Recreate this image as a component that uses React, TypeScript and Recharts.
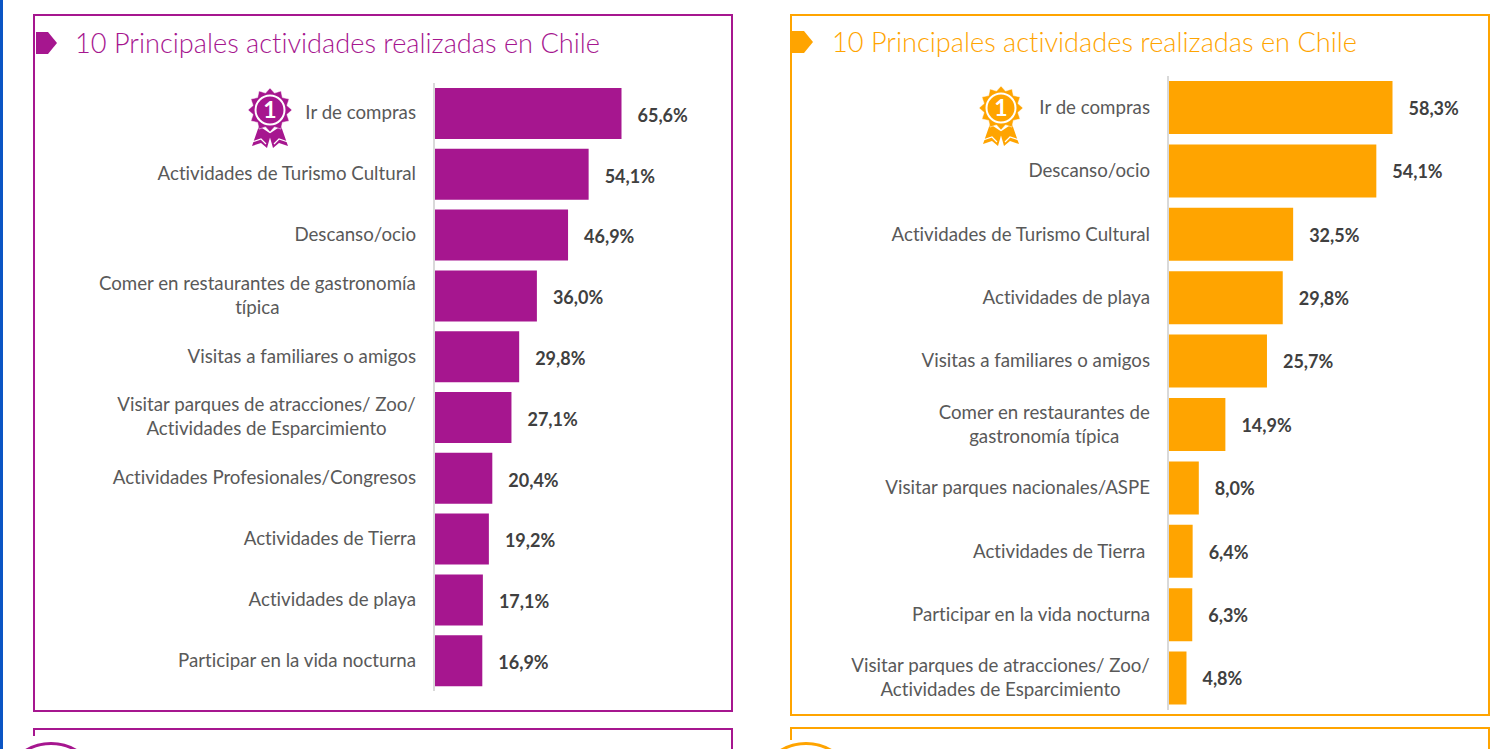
import { Bar, BarChart, LabelList, XAxis, YAxis } from 'recharts';

const FONT = 'Lato, "Open Sans", sans-serif';
const TICK_SIZE = 18.7;
const PURPLE = '#a6168f';
const ORANGE = '#ffa400';

const leftCategories = [
  'Ir de compras',
  'Actividades de Turismo Cultural',
  'Descanso/ocio',
  'Comer en restaurantes de gastronomía\ntípica',
  'Visitas a familiares o amigos',
  'Visitar parques de atracciones/ Zoo/\nActividades de Esparcimiento',
  'Actividades Profesionales/Congresos',
  'Actividades de Tierra',
  'Actividades de playa',
  'Participar en la vida nocturna',
];
const leftValues = [65.6, 54.1, 46.9, 36.0, 29.8, 27.1, 20.4, 19.2, 17.1, 16.9];

const rightCategories = [
  'Ir de compras',
  'Descanso/ocio',
  'Actividades de Turismo Cultural',
  'Actividades de playa',
  'Visitas a familiares o amigos',
  'Comer en restaurantes de\ngastronomía típica',
  'Visitar parques nacionales/ASPE',
  'Actividades de Tierra ',
  'Participar en la vida nocturna',
  'Visitar parques de atracciones/ Zoo/\nActividades de Esparcimiento',
];
const rightValues = [58.3, 54.1, 32.5, 29.8, 25.7, 14.9, 8.0, 6.4, 6.3, 4.8];

const percent = (v: number) => v.toFixed(1).replace('.', ',') + '%';

// wrapped labels are centred on each other, so the block needs its own width
function textWidth(text: string) {
  const ctx = document.createElement('canvas').getContext('2d');
  if (!ctx) return 0;
  ctx.font = `${TICK_SIZE}px ${FONT}`;
  return ctx.measureText(text).width;
}

function Tick({ x, y, payload }: any) {
  const lines = String(payload.value).split('\n');
  const multi = lines.length > 1;
  const middle = multi ? x - Math.max(...lines.map(textWidth)) / 2 : x;
  return (
    <text
      x={x}
      y={y}
      textAnchor={multi ? 'middle' : 'end'}
      fontFamily={FONT}
      fontSize={TICK_SIZE}
      fill="#595959"
      style={{ whiteSpace: 'pre', fontVariantLigatures: 'none' }}
    >
      {lines.map((line, i) => (
        <tspan key={i} x={middle} y={y + 6 - (lines.length - 1) * 12 + i * 24}>
          {line}
        </tspan>
      ))}
    </text>
  );
}

function Panel({
  categories,
  values,
  color,
  width,
  height,
  top,
  bottom,
  axisWidth,
  max,
  barSize,
  labelDy,
}: {
  categories: string[];
  values: number[];
  color: string;
  width: number;
  height: number;
  top: number;
  bottom: number;
  axisWidth: number;
  max: number;
  barSize: number;
  labelDy: number;
}) {
  const data = categories.map((name, i) => ({ name, value: values[i] }));
  return (
    <BarChart
      layout="vertical"
      width={width}
      height={height}
      data={data}
      margin={{ top, right: 0, bottom, left: 0 }}
    >
      <XAxis type="number" hide domain={[0, max]} />
      <YAxis
        type="category"
        dataKey="name"
        width={axisWidth}
        interval={0}
        tickLine={false}
        tickMargin={12}
        axisLine={{ stroke: '#d9d9d9', strokeWidth: 2 }}
        tick={<Tick />}
      />
      <Bar dataKey="value" fill={color} barSize={barSize} isAnimationActive={false}>
        <LabelList
          dataKey="value"
          position="right"
          offset={16}
          formatter={percent}
          fontFamily={FONT}
          fontSize={18}
          fontWeight={700}
          fill="#404040"
          dy={labelDy}
        />
      </Bar>
    </BarChart>
  );
}

function Medal({ x, y, color }: { x: number; y: number; color: string }) {
  const points: string[] = [];
  for (let i = 0; i < 24; i++) {
    const r = i % 2 === 0 ? 22 : 17.5;
    const a = (i * Math.PI) / 12;
    points.push(`${(r * Math.sin(a)).toFixed(1)},${(-r * Math.cos(a)).toFixed(1)}`);
  }
  return (
    <svg
      width={50}
      height={64}
      viewBox="-25 -24 50 64"
      style={{ position: 'absolute', left: x - 25, top: y - 24 }}
    >
      <path d="M-11 16 L-18 36 L-9 33 L-3 38 L1 24 Z" fill={color} />
      <path d="M11 16 L18 36 L9 33 L3 38 L-1 24 Z" fill={color} />
      <path d="M-18 32 L-9 29 L-4 34" fill="none" stroke="#fff" strokeWidth={1.2} />
      <path d="M18 32 L9 29 L4 34" fill="none" stroke="#fff" strokeWidth={1.2} />
      <polygon points={points.join(' ')} fill={color} stroke="#fff" strokeWidth={0.5} />
      <circle r={14.5} fill="none" stroke="#fff" strokeWidth={2} />
      <text
        y={8}
        textAnchor="middle"
        fontFamily={FONT}
        fontSize={23}
        fontWeight={700}
        fill="#fff"
      >
        1
      </text>
    </svg>
  );
}

function Tag({ x, y, color }: { x: number; y: number; color: string }) {
  return (
    <div
      style={{
        position: 'absolute',
        left: x,
        top: y,
        width: 21,
        height: 22,
        background: color,
        clipPath: 'polygon(0 0, 57% 0, 100% 50%, 57% 100%, 0 100%)',
      }}
    />
  );
}

function Box({
  x,
  y,
  w,
  h,
  color,
}: {
  x: number;
  y: number;
  w: number;
  h: number;
  color: string;
}) {
  return (
    <div
      style={{
        position: 'absolute',
        left: x,
        top: y,
        width: w,
        height: h,
        boxSizing: 'border-box',
        border: `2px solid ${color}`,
      }}
    />
  );
}

function Title({ x, y, color }: { x: number; y: number; color: string }) {
  return (
    <div
      style={{
        position: 'absolute',
        left: x,
        top: y,
        fontFamily: FONT,
        fontWeight: 300,
        fontSize: 27.2,
        lineHeight: '34px',
        color,
        whiteSpace: 'nowrap',
        fontVariantLigatures: 'none',
      }}
    >
      10 Principales actividades realizadas en Chile
    </div>
  );
}

// top of the round badge of the next panel, cut off by the page edge
function Badge({ x, color, maskTop }: { x: number; color: string; maskTop: number }) {
  return (
    <>
      <div
        style={{
          position: 'absolute',
          left: x - 19,
          top: maskTop,
          width: 5,
          height: 749 - maskTop,
          background: '#fff',
        }}
      />
      <div
        style={{
          position: 'absolute',
          left: x - 50,
          top: 742,
          width: 100,
          height: 100,
          boxSizing: 'border-box',
          borderRadius: '50%',
          border: `3px solid ${color}`,
          background: '#fff',
        }}
      />
    </>
  );
}

export default function App() {
  return (
    <div
      style={{
        position: 'absolute',
        left: 0,
        top: 0,
        width: 1500,
        height: 749,
        overflow: 'hidden',
        background: '#fff',
      }}
    >
      <div style={{ position: 'absolute', left: 0, top: 0, width: 3, height: 749, background: '#0b55c4' }} />

      <Box x={33} y={14} w={700} h={698} color={PURPLE} />
      <Box x={33} y={728} w={700} h={60} color={PURPLE} />
      <Badge x={51} color={PURPLE} maskTop={736} />
      <Tag x={36} y={32} color={PURPLE} />
      <Title x={75} y={26} color={PURPLE} />

      <Box x={790} y={14} w={700} h={702} color={ORANGE} />
      <Box x={790} y={727} w={700} h={60} color={ORANGE} />
      <Badge x={806} color={ORANGE} maskTop={740} />
      <Tag x={792} y={31} color={ORANGE} />
      <Title x={832} y={25} color={ORANGE} />

      <div style={{ position: 'absolute', left: 34, top: 0 }}>
        <Panel
          categories={leftCategories}
          values={leftValues}
          color={PURPLE}
          width={690}
          height={749}
          top={83}
          bottom={58}
          axisWidth={400}
          max={65.6 * (290 / 187.5)}
          barSize={51}
          labelDy={2}
        />
      </div>
      <Medal x={270} y={110} color={PURPLE} />

      <div style={{ position: 'absolute', left: 791, top: 0 }}>
        <Panel
          categories={rightCategories}
          values={rightValues}
          color={ORANGE}
          width={690}
          height={749}
          top={76}
          bottom={39}
          axisWidth={377}
          max={58.3 * (313 / 224.5)}
          barSize={53}
          labelDy={1}
        />
      </div>
      <Medal x={1001} y={108} color={ORANGE} />
    </div>
  );
}
